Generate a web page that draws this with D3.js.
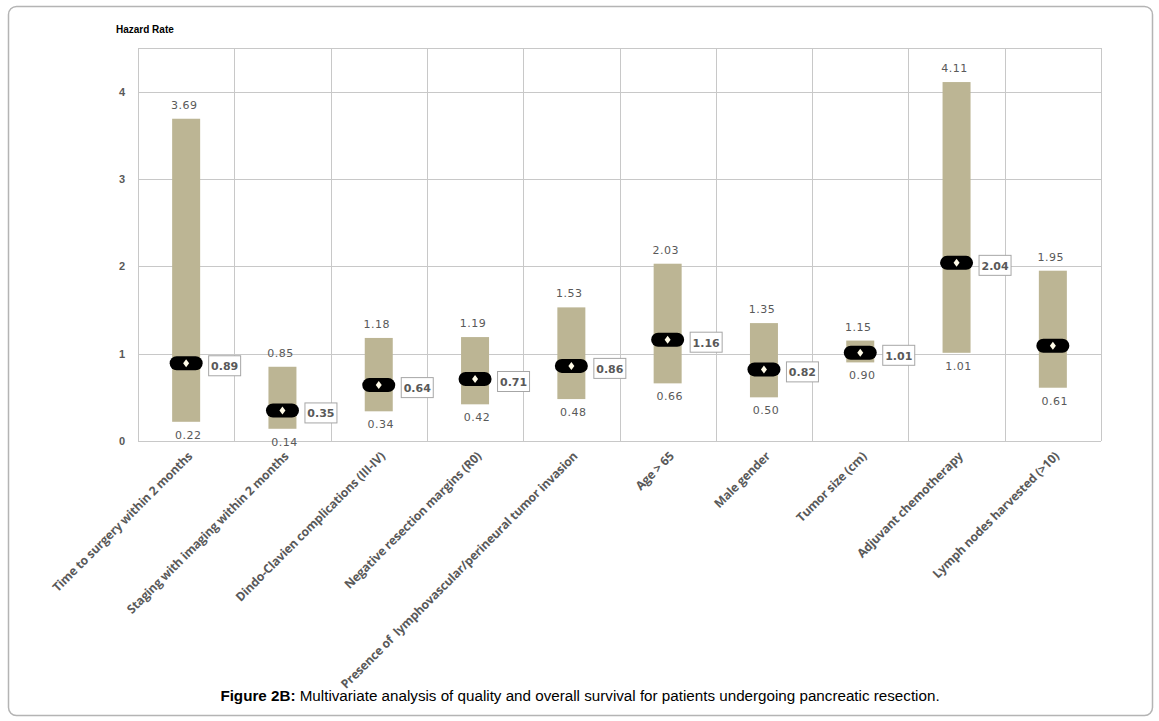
<!DOCTYPE html>
<html>
<head>
<meta charset="utf-8">
<script src="https://cdn.jsdelivr.net/npm/d3@7"></script>
<style>
  body { margin: 0; background: #fff; }
  svg text { font-family: "Liberation Sans", Arial, sans-serif; }
</style>
</head>
<body>
<svg id="chart" width="1159" height="721"></svg>
<script>
// categories and values
const categories = [
  "Time to surgery within 2 months",
  "Staging with imaging within 2 months",
  "Dindo-Clavien complications (III-IV)",
  "Negative resection margins (R0)",
  "Presence of  lymphovascular/perineural tumor invasion",
  "Age > 65",
  "Male gender",
  "Tumor size (cm)",
  "Adjuvant chemotherapy",
  "Lymph nodes harvested (>10)"
];
const lower = [0.22, 0.14, 0.34, 0.42, 0.48, 0.66, 0.50, 0.90, 1.01, 0.61];
const upper = [3.69, 0.85, 1.18, 1.19, 1.53, 2.03, 1.35, 1.15, 4.11, 1.95];
const hazard = [0.89, 0.35, 0.64, 0.71, 0.86, 1.16, 0.82, 1.01, 2.04, 1.09];
const showHazardLabel = [true, true, true, true, true, true, true, true, true, false];
const yTicks = [0, 1, 2, 3, 4];

const data = categories.map((c, i) => ({
  name: c, lo: lower[i], hi: upper[i], hr: hazard[i], showLabel: showHazardLabel[i]
}));

const svg = d3.select("#chart");
const margin = { top: 48, right: 58, bottom: 280, left: 138 };
const width = 1159, height = 721;

// outer frame
svg.append("rect")
   .attr("x", 8.5).attr("y", 6.5)
   .attr("width", 1144).attr("height", 709)
   .attr("rx", 8)
   .attr("fill", "none")
   .attr("stroke", "#b4b4b4")
   .attr("stroke-width", 1.5);

const x = d3.scaleBand()
            .domain(categories)
            .range([margin.left, width - margin.right]);

const y = d3.scaleLinear()
            .domain([0, 4.5])
            .range([441, margin.top]);

// gridlines
svg.append("g")
   .selectAll("line")
   .data(yTicks.concat([4.5]))
   .join("line")
   .attr("x1", margin.left).attr("x2", width - margin.right)
   .attr("y1", d => Math.round(y(d)) + 0.5).attr("y2", d => Math.round(y(d)) + 0.5)
   .attr("stroke", "#c8c8c8");

svg.append("g")
   .selectAll("line")
   .data(categories.map(c => x(c)).concat([width - margin.right]))
   .join("line")
   .attr("x1", d => Math.round(d) + 0.5).attr("x2", d => Math.round(d) + 0.5)
   .attr("y1", y(4.5)).attr("y2", y(0))
   .attr("stroke", "#c8c8c8");

// y axis labels
svg.append("g")
   .attr("transform", `translate(${margin.left},0)`)
   .call(d3.axisLeft(y).tickValues(yTicks).tickSize(0).tickPadding(13).tickFormat(d3.format("d")))
   .call(g => g.select(".domain").remove())
   .selectAll("text")
   .style("font-family", "'Liberation Sans', Arial, sans-serif")
   .style("font-size", "11px")
   .style("font-weight", "bold")
   .attr("fill", "#595959");

svg.append("text")
   .attr("x", 116).attr("y", 33)
   .text("Hazard Rate")
   .style("font-size", "10px")
   .style("font-weight", "bold")
   .attr("fill", "#000");

// x axis labels
svg.append("g")
   .attr("transform", `translate(0,${y(0)})`)
   .call(d3.axisBottom(x).tickSize(0).tickPadding(0))
   .call(g => g.select(".domain").remove())
   .selectAll("text")
   .attr("transform", "translate(4,13) rotate(-45)")
   .attr("dy", "0.35em")
   .style("text-anchor", "end")
   .style("white-space", "pre")
   .style("font-family", "'Open Sans', 'Liberation Sans', sans-serif")
   .style("font-size", "12.2px")
   .style("font-weight", "bold")
   .style("letter-spacing", "-0.2px")
   .attr("fill", "#595959");

const bw = 28;
const cx = d => x(d.name) + x.bandwidth() / 2;

// range bars
svg.selectAll(".bar")
   .data(data)
   .join("rect")
   .attr("class", "bar")
   .attr("x", d => cx(d) - bw / 2)
   .attr("y", d => y(d.hi))
   .attr("width", bw)
   .attr("height", d => y(d.lo) - y(d.hi))
   .attr("fill", "#bcb594");

// upper / lower value labels
const valStyle = sel => sel
   .attr("text-anchor", "middle")
   .style("font-family", "'DejaVu Sans', sans-serif")
   .style("font-size", "11px")
   .style("letter-spacing", "0.5px")
   .attr("fill", "#595959");

svg.selectAll(".hi-label")
   .data(data)
   .join("text")
   .attr("class", "hi-label")
   .attr("x", d => cx(d) - 2)
   .attr("y", d => y(d.hi) - 10)
   .text(d => d.hi.toFixed(2))
   .call(valStyle);

svg.selectAll(".lo-label")
   .data(data)
   .join("text")
   .attr("class", "lo-label")
   .attr("x", d => cx(d) + 2)
   .attr("y", d => y(d.lo) + 17)
   .text(d => d.lo.toFixed(2))
   .call(valStyle);

// hazard ratio markers
svg.selectAll(".marker")
   .data(data)
   .join("rect")
   .attr("class", "marker")
   .attr("x", d => cx(d) - 16.5)
   .attr("y", d => y(d.hr) - 7)
   .attr("width", 33)
   .attr("height", 14)
   .attr("rx", 7)
   .attr("fill", "#000");

svg.selectAll(".diamond")
   .data(data)
   .join("path")
   .attr("class", "diamond")
   .attr("transform", d => `translate(${cx(d)},${y(d.hr)})`)
   .attr("d", "M0,-4L3,0L0,4L-3,0Z")
   .attr("fill", "#fffbe8");

// hazard ratio value boxes
const boxes = svg.selectAll(".hr-box")
   .data(data.filter(d => d.showLabel))
   .join("g")
   .attr("class", "hr-box")
   .attr("transform", d => `translate(${cx(d) + 22},${y(d.hr) - 8})`);

boxes.append("rect")
   .attr("x", 0.5).attr("y", 0.5)
   .attr("width", 32).attr("height", 20)
   .attr("fill", "#fff")
   .attr("stroke", "#a6a6a6");

boxes.append("text")
   .attr("x", 16.5).attr("y", 15)
   .attr("text-anchor", "middle")
   .text(d => d.hr.toFixed(2))
   .style("font-family", "'DejaVu Sans', sans-serif")
   .style("font-size", "11px")
   .style("font-weight", "bold")
   .attr("fill", "#595959");

// caption
const cap = svg.append("text")
   .attr("x", 580).attr("y", 701)
   .attr("text-anchor", "middle")
   .style("font-size", "15.2px")
   .attr("fill", "#000");
cap.append("tspan").style("font-weight", "bold").text("Figure 2B:");
cap.append("tspan").text(" Multivariate analysis of quality and overall survival for patients undergoing pancreatic resection.");
</script>
</body>
</html>
